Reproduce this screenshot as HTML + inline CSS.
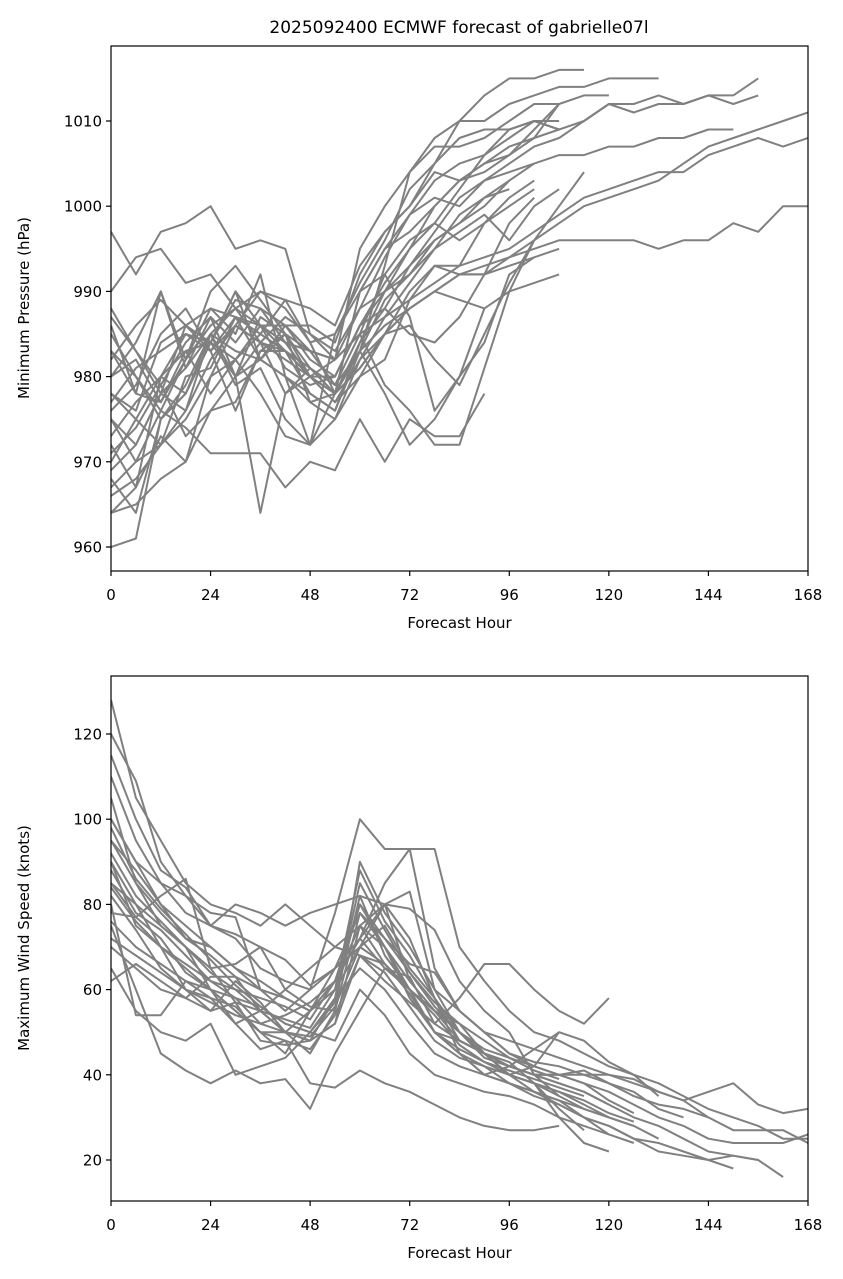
<!DOCTYPE html>
<html><head><meta charset="utf-8">
<style>
html,body{margin:0;padding:0;background:#fff;}
svg{display:block;font-family:"DejaVu Sans","Liberation Sans",sans-serif;}
</style></head>
<body>
<svg id="chart" width="843" height="1279" viewBox="0 0 843 1279" xmlns="http://www.w3.org/2000/svg">
<rect width="843" height="1279" fill="#fff"/>
<defs>
<clipPath id="clipTop"><rect x="111" y="46" width="697" height="525"/></clipPath>
<clipPath id="clipBot"><rect x="111" y="676" width="697" height="525"/></clipPath>
</defs>
<text x="459" y="33" font-size="17" text-anchor="middle">2025092400 ECMWF forecast of gabrielle07l</text>
<g id="top"></g>
<g id="bot"></g>
</svg>
<script>
const hourStep = 6;
const xTicks = [0,24,48,72,96,120,144,168];
const pressureTicks = [960,970,980,990,1000,1010];
const windTicks = [20,40,60,80,100,120];

const pressureMembers = [
[960,961,975,978,985,983,982,980,977,978,990,995,997,1000,1003,1005,1007,1008,1012],
[997,992,997,998,1000,995,996,995,985,982,995,1000,1004,1008,1010,1013,1015,1015,1016,1016],
[990,994,995,991,992,988,990,989,988,986,993,997,1000,1005,1010,1010,1012,1013,1014,1014,1015,1015,1015],
[964,965,968,970,976,977,983,985,980,980,986,990,993,997,1001,1003,1005,1007,1008,1010,1012,1012,1013,1012,1013,1013,1015],
[975,970,972,976,985,988,986,984,980,978,984,990,995,1000,1003,1005,1006,1008,1009,1010,1012,1011,1012,1012,1013,1012,1013],
[980,984,990,982,988,987,986,983,980,982,988,990,992,995,999,1001,1003,1005,1006,1006,1007,1007,1008,1008,1009,1009],
[970,975,980,978,984,982,985,983,981,979,983,986,988,990,992,993,994,996,998,1000,1001,1002,1003,1005,1007,1008,1009,1010,1011],
[968,964,975,979,985,980,987,985,983,982,985,987,989,991,993,994,995,997,999,1001,1002,1003,1004,1004,1006,1007,1008,1007,1008],
[975,972,978,976,982,986,990,988,984,978,981,985,988,990,992,992,994,995,996,996,996,996,995,996,996,998,997,1000,1000,1003],
[985,980,976,974,971,971,971,967,970,969,975,970,975,973,973,978],
[988,983,979,973,976,980,964,978,981,978,983,978,972,975,980,988],
[978,976,984,986,988,985,992,980,972,985,990,992,987,976,980,984,992,994],
[983,978,977,982,990,993,989,985,977,975,982,985,986,982,979,985,991,996,1000,1004],
[972,967,980,985,983,976,983,983,978,976,983,993,1004,1007,1007,1008,1010,1012,1012],
[966,968,972,980,981,987,985,989,984,985,991,996,1002,1005,1008,1009,1009,1010,1010],
[980,982,977,983,984,990,982,986,983,982,985,979,976,972,972,981,990,996],
[978,975,972,975,980,986,984,978,980,978,981,985,988,990,989,988,990,991,992],
[986,978,990,981,985,979,981,975,972,978,990,995,999,1003,1005,1006,1008,1010,1009],
[973,977,980,983,978,982,986,986,986,984,992,997,1000,1004,1003,1004,1006,1009,1012,1013,1013],
[982,986,989,986,984,989,988,984,983,979,985,992,996,998,996,998,1000,1002],
[977,981,983,985,984,980,984,982,980,977,980,985,990,993,993,998,1001,1003],
[964,967,973,970,980,982,978,973,972,975,980,982,989,993,992,992,993,994,995],
[987,983,978,986,983,987,982,980,978,976,984,988,993,996,998,1000,1003],
[969,972,978,981,987,984,988,986,982,980,986,991,995,998,1002,1006,1009,1010,1009],
[976,979,985,988,983,986,984,987,985,983,988,994,999,1001,1000,1003,1004,1005],
[971,974,979,984,987,980,982,985,981,978,983,989,992,996,998,1001,1002],
[983,980,975,978,984,990,986,981,979,980,986,988,985,984,987,992,998,1001],
[967,970,976,982,986,988,984,983,980,977,982,987,991,995,997,999,996,1000,1002]
];

const windMembers = [
[128,105,95,85,80,78,75,80,75,70,68,66,60,55,50,45,42,40,40,40,40,39,36,34,36,38,33,31,32],
[120,109,90,82,78,77,60,58,55,62,72,85,93,93,70,62,55,50,48,45,42,40,38,35,32,30,28,25,25],
[100,90,85,82,75,72,65,62,60,78,100,93,93,65,55,50,45,42,40,38,36,33,30,28,25,24,24,24,26],
[95,88,80,72,70,65,60,58,55,65,70,80,83,60,55,50,48,46,44,42,40,38,36,34,30,27,27,27,24],
[80,54,54,62,60,55,50,45,55,60,70,75,65,58,48,45,42,40,38,36,33,30,28,25,22,21,20,16],
[75,60,45,41,38,41,38,39,32,45,55,65,60,50,45,40,38,36,34,30,28,25,22,21,20,21,20],
[90,75,70,65,60,52,46,48,38,37,41,38,36,33,30,28,27,27,28],
[85,80,75,70,65,57,55,50,48,52,75,80,72,58,45,40,38,35,33,30,28,25,24,22,20,18],
[110,95,85,78,75,80,78,75,78,80,82,80,79,74,62,55,50,40,35],
[78,77,82,86,65,66,70,67,61,65,72,65,63,52,58,66,66,60,55,52,58],
[70,65,60,58,63,63,55,60,65,70,75,66,60,50,48,45,42,40,40,41,38,35,33,32,30],
[100,90,80,75,70,65,62,58,55,60,80,70,60,55,50,45,40,38,35,32,30,28,25],
[62,66,62,58,55,57,48,47,48,58,65,60,52,45,42,40,42,46,50,48,43,40,35],
[105,85,75,70,60,55,50,50,45,55,90,78,70,60,50,45,40,38,36,33,30,28],
[65,55,50,48,52,40,42,44,50,48,60,54,45,40,38,36,35,33,30,28,26],
[90,80,70,60,55,62,57,50,55,62,75,70,58,50,45,42,40,36,33,30,26,24],
[82,74,65,60,58,52,55,50,48,52,68,62,57,52,48,45,43,38,32,27],
[95,85,78,72,68,63,60,55,60,65,78,70,62,55,48,45,40,38,30,24,22],
[85,77,72,64,60,58,52,54,57,62,72,80,62,55,52,45,40,42,50],
[115,100,88,84,75,73,70,60,56,55,78,72,66,64,55,50,45,43,42,40,38,36,32,30],
[88,78,74,68,62,58,56,52,50,58,85,74,64,56,50,46,44,42,40,38,34,31],
[76,70,66,62,58,56,50,48,46,54,68,64,56,48,44,42,38,36,34,32,30],
[92,82,76,70,64,60,55,53,51,60,88,76,68,58,50,44,42,40,38,36,33],
[84,76,70,66,62,60,58,56,53,62,80,72,64,57,52,48,44,41,39],
[98,86,79,73,67,61,56,52,50,57,82,68,60,54,47,43,40,38,36,34,31,29],
[72,68,64,60,57,54,52,50,49,56,70,66,59,50,46,43,41,39,37,35]
];

const NS = "http://www.w3.org/2000/svg";
function mk(tag, attrs, parent){
  const e = document.createElementNS(NS, tag);
  for (const k in attrs) e.setAttribute(k, attrs[k]);
  parent.appendChild(e);
  return e;
}
const X0 = 111, X1 = 808;
function xScale(h){ return X0 + (h/168)*(X1-X0); }

function panel(g, top, clipId, yScale, yTicks, members, ylabel, seriesName){
  const bottom = top + 525;
  const lines = mk('g', {'clip-path':'url(#'+clipId+')'}, g);
  members.forEach((vals, mi) => {
    const d = vals.map((v,i)=> (i?'L':'M') + xScale(i*hourStep).toFixed(1) + ' ' + yScale(v).toFixed(1)).join(' ');
    const p = mk('path', {d:d, fill:'none', stroke:'#808080', 'stroke-width':'2', 'stroke-linejoin':'round'}, lines);
    
    
  });
  const frame = mk('rect', {x:X0, y:top, width:X1-X0, height:525, fill:'none', stroke:'#000', 'stroke-width':'1.2'}, g);
  
  
  xTicks.forEach(t => {
    const x = xScale(t);
    mk('line', {x1:x, x2:x, y1:bottom, y2:bottom+5, stroke:'#000', 'stroke-width':'1.2'}, g);
    const tx = mk('text', {x:x, y:bottom+29, 'font-size':'15', 'text-anchor':'middle'}, g);
    tx.textContent = t;
    
    
  });
  yTicks.forEach(t => {
    const y = yScale(t);
    mk('line', {x1:X0-5, x2:X0, y1:y, y2:y, stroke:'#000', 'stroke-width':'1.2'}, g);
    const tx = mk('text', {x:X0-9, y:y+5.5, 'font-size':'15', 'text-anchor':'end'}, g);
    tx.textContent = t;
    
    
  });
  const xl = mk('text', {x:(X0+X1)/2, y:bottom+57, 'font-size':'15', 'text-anchor':'middle'}, g);
  xl.textContent = 'Forecast Hour';
  
  
  const yc = top + 262;
  const yl = mk('text', {x:29, y:yc, 'font-size':'15', 'text-anchor':'middle', transform:'rotate(-90 29 '+yc+')'}, g);
  yl.textContent = ylabel;
  
  
}

panel(document.getElementById('top'), 46, 'clipTop',
  v => 547 - (v-960)*8.52, pressureTicks, pressureMembers, 'Minimum Pressure (hPa)', 'pressure');
panel(document.getElementById('bot'), 676, 'clipBot',
  v => 1160 - (v-20)*4.26, windTicks, windMembers, 'Maximum Wind Speed (knots)', 'wind');
</script>
</body></html>
